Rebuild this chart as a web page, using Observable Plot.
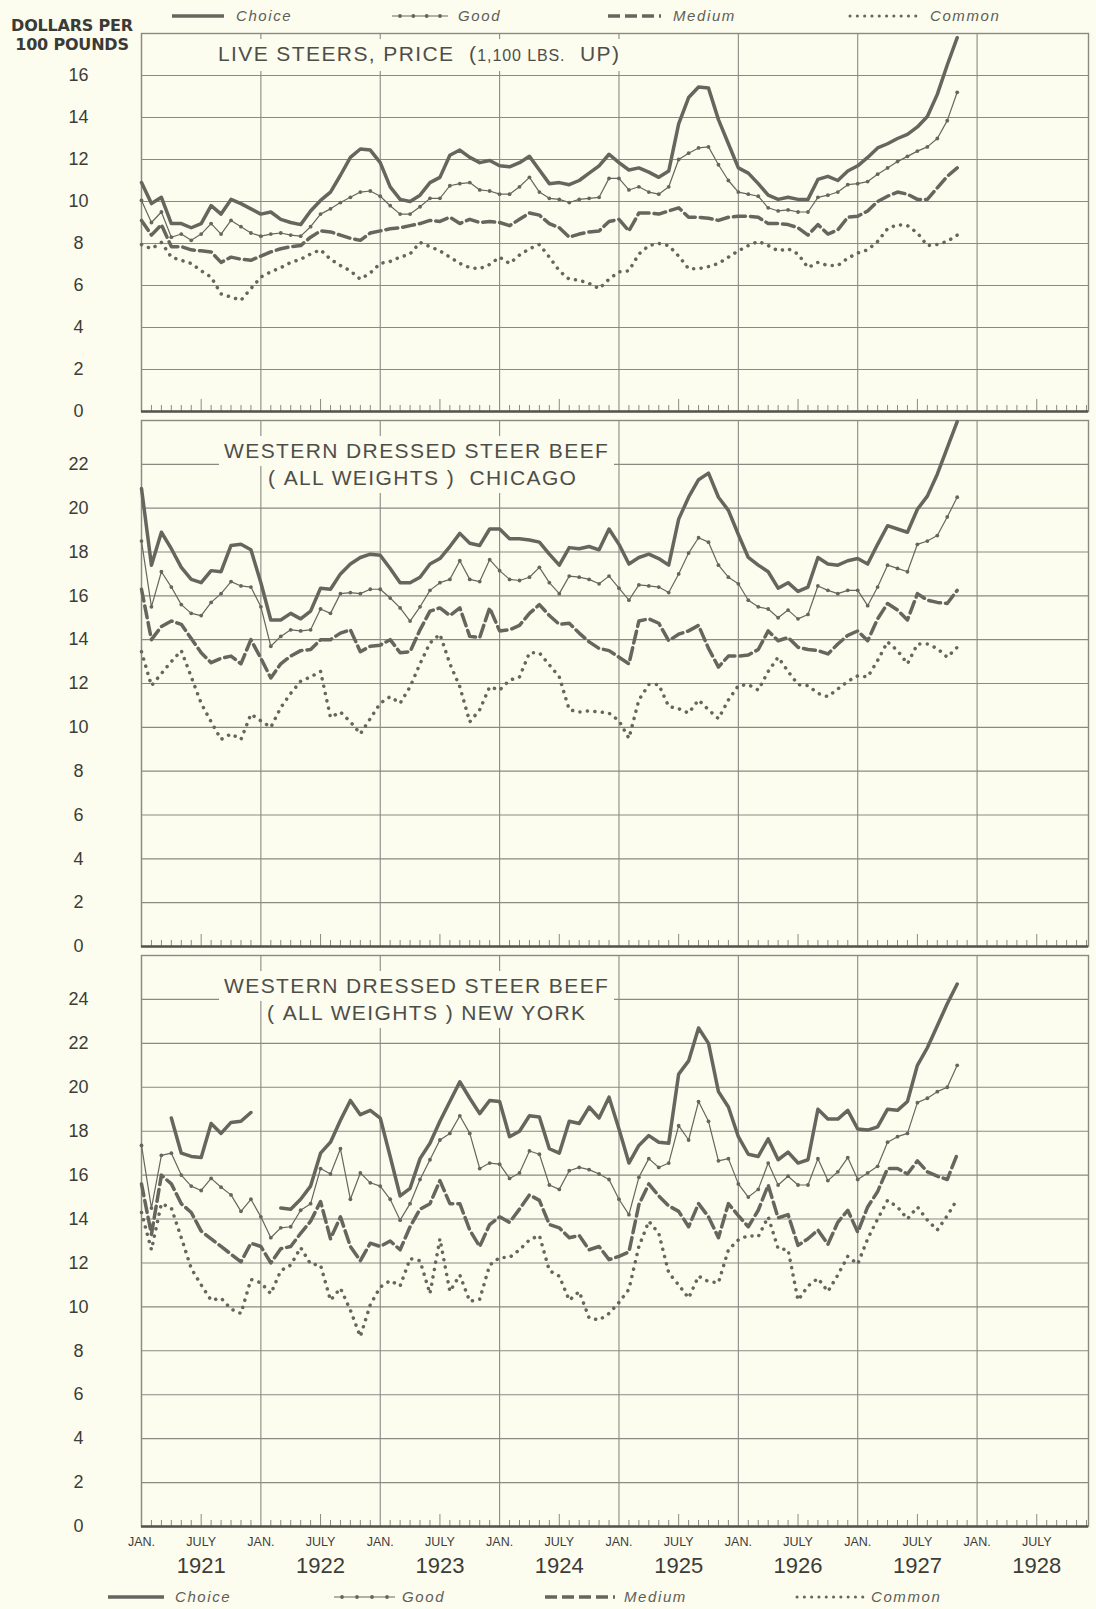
<!DOCTYPE html>
<html>
<head>
<meta charset="utf-8">
<script src="https://cdn.jsdelivr.net/npm/d3@7"></script>
<script src="https://cdn.jsdelivr.net/npm/@observablehq/plot@0.6"></script>
<style>
  html,body{margin:0;padding:0;background:#fcfcef;}
  #page{position:relative;width:1096px;height:1609px;overflow:hidden;background:#fcfcef;font-family:"Liberation Sans",Arial,sans-serif;color:#4b4b46;}
  .ttl{position:absolute;background:#fcfcef;white-space:nowrap;font-size:21px;line-height:22px;letter-spacing:1.4px;color:#4e4e49;padding:4px 5px;}
  .ttl .sm{font-size:16px;letter-spacing:0.9px;}
  .unit{position:absolute;left:0;width:144px;text-align:center;font-family:"DejaVu Sans",sans-serif;font-weight:bold;font-size:16px;line-height:19px;color:#3a3a36;white-space:nowrap;letter-spacing:-0.2px;}
  [aria-label="ytick"] text{letter-spacing:1.5px}
  [aria-label="mon"] text{letter-spacing:1.6px;font-weight:bold}
  [aria-label="yr"] text{letter-spacing:0.5px}
</style>
</head>
<body>
<div id="page"></div>
<script>
// ---------------- DATA (monthly, Jan 1921 = month 0 ... Nov 1927 = month 82) ----------------
const months = d3.range(83);

// Live steers, price (1,100 lbs. up)
const liveChoice = [
  10.9, 9.9, 10.2, 8.95, 8.95, 8.75, 8.95, 9.8, 9.4, 10.1, 9.9, 9.65,
  9.4, 9.5, 9.15, 9.0, 8.9, 9.55, 10.05, 10.45, 11.25, 12.1, 12.5, 12.45,
  11.85, 10.7, 10.1, 10.0, 10.3, 10.9, 11.15, 12.2, 12.45, 12.1, 11.85, 11.95,
  11.7, 11.65, 11.85, 12.15, 11.5, 10.85, 10.9, 10.8, 11.0, 11.35, 11.7, 12.25,
  11.85, 11.5, 11.6, 11.4, 11.15, 11.45, 13.7, 14.95, 15.45, 15.4, 13.9, 12.75,
  11.6, 11.35, 10.85, 10.3, 10.1, 10.2, 10.1, 10.1, 11.05, 11.2, 11.0, 11.45,
  11.7, 12.1, 12.55, 12.75, 13.0, 13.2, 13.55, 14.05, 15.1, 16.5, 17.8];
const liveGood = [
  10.05, 9.0, 9.5, 8.3, 8.45, 8.15, 8.45, 8.95, 8.45, 9.1, 8.8, 8.5,
  8.35, 8.45, 8.5, 8.4, 8.35, 8.8, 9.4, 9.65, 9.95, 10.2, 10.45, 10.5,
  10.25, 9.8, 9.4, 9.4, 9.75, 10.15, 10.15, 10.75, 10.85, 10.9, 10.55, 10.5,
  10.35, 10.35, 10.7, 11.15, 10.45, 10.15, 10.1, 9.95, 10.1, 10.15, 10.2, 11.1,
  11.1, 10.55, 10.7, 10.45, 10.35, 10.7, 12.0, 12.3, 12.55, 12.6, 11.75, 11.0,
  10.45, 10.35, 10.25, 9.7, 9.55, 9.6, 9.5, 9.5, 10.2, 10.3, 10.45, 10.8,
  10.85, 10.95, 11.3, 11.6, 11.9, 12.15, 12.4, 12.6, 13.0, 13.85, 15.2];
const liveMedium = [
  9.1, 8.4, 8.9, 7.85, 7.85, 7.7, 7.65, 7.6, 7.1, 7.35, 7.25, 7.2,
  7.4, 7.6, 7.75, 7.85, 7.9, 8.3, 8.6, 8.55, 8.4, 8.25, 8.15, 8.5,
  8.6, 8.7, 8.75, 8.85, 8.95, 9.1, 9.05, 9.25, 8.95, 9.15, 9.0, 9.05,
  9.0, 8.85, 9.15, 9.45, 9.35, 8.95, 8.75, 8.3, 8.45, 8.55, 8.6, 9.05,
  9.15, 8.6, 9.45, 9.45, 9.4, 9.55, 9.7, 9.25, 9.25, 9.2, 9.1, 9.25,
  9.3, 9.3, 9.25, 8.95, 8.95, 8.9, 8.75, 8.4, 8.9, 8.45, 8.65, 9.25,
  9.3, 9.55, 10.0, 10.25, 10.45, 10.35, 10.1, 10.1, 10.65, 11.2, 11.6];
const liveCommon = [
  7.95, 7.75, 8.05, 7.35, 7.2, 7.05, 6.7, 6.4, 5.6, 5.45, 5.3, 5.85,
  6.4, 6.65, 6.85, 7.1, 7.25, 7.5, 7.7, 7.25, 6.95, 6.7, 6.3, 6.6,
  7.05, 7.15, 7.35, 7.5, 8.05, 7.85, 7.65, 7.35, 7.05, 6.85, 6.8, 7.0,
  7.35, 7.05, 7.45, 7.75, 7.95, 7.35, 6.7, 6.3, 6.25, 6.1, 5.85, 6.3,
  6.65, 6.7, 7.5, 7.9, 8.0, 7.9, 7.4, 6.8, 6.8, 6.9, 7.05, 7.35,
  7.65, 7.9, 8.1, 7.9, 7.65, 7.75, 7.5, 6.85, 7.1, 6.95, 6.95, 7.3,
  7.55, 7.7, 8.1, 8.7, 8.9, 8.85, 8.5, 7.9, 7.95, 8.1, 8.4];

// Western dressed steer beef (all weights) Chicago
const chiChoice = [
  20.9, 17.4, 18.9, 18.15, 17.3, 16.75, 16.6, 17.15, 17.1, 18.3, 18.35, 18.1,
  16.6, 14.9, 14.9, 15.2, 14.95, 15.3, 16.35, 16.3, 17.0, 17.45, 17.75, 17.9,
  17.85, 17.25, 16.6, 16.6, 16.85, 17.45, 17.7, 18.25, 18.85, 18.4, 18.3, 19.05,
  19.05, 18.6, 18.6, 18.55, 18.45, 17.9, 17.4, 18.2, 18.15, 18.25, 18.1, 19.05,
  18.35, 17.45, 17.75, 17.9, 17.7, 17.4, 19.5, 20.5, 21.3, 21.6, 20.5, 19.9,
  18.8, 17.75, 17.4, 17.1, 16.35, 16.6, 16.2, 16.4, 17.75, 17.45, 17.4, 17.6,
  17.7, 17.45, 18.35, 19.2, 19.05, 18.9, 19.95, 20.55, 21.55, 22.75, 23.95];
const chiGood = [
  18.5, 15.5, 17.1, 16.4, 15.6, 15.2, 15.1, 15.7, 16.1, 16.65, 16.45, 16.4,
  15.5, 13.7, 14.15, 14.45, 14.4, 14.45, 15.4, 15.2, 16.1, 16.15, 16.1, 16.3,
  16.3, 15.9, 15.45, 14.85, 15.5, 16.25, 16.6, 16.75, 17.6, 16.75, 16.65, 17.65,
  17.15, 16.75, 16.7, 16.85, 17.3, 16.6, 16.1, 16.9, 16.85, 16.75, 16.55, 16.9,
  16.35, 15.8, 16.5, 16.45, 16.4, 16.15, 17.0, 17.95, 18.65, 18.45, 17.4, 16.85,
  16.55, 15.8, 15.5, 15.4, 15.0, 15.35, 14.95, 15.15, 16.45, 16.25, 16.1, 16.25,
  16.25, 15.55, 16.4, 17.4, 17.25, 17.1, 18.35, 18.5, 18.75, 19.6, 20.5];
const chiMedium = [
  16.3, 14.0, 14.6, 14.85, 14.7, 14.05, 13.4, 12.95, 13.15, 13.25, 12.9, 14.0,
  13.15, 12.25, 12.9, 13.25, 13.5, 13.55, 14.0, 14.0, 14.3, 14.45, 13.45, 13.7,
  13.75, 14.0, 13.4, 13.45, 14.45, 15.3, 15.45, 15.1, 15.45, 14.15, 14.1, 15.45,
  14.4, 14.45, 14.65, 15.2, 15.6, 15.1, 14.7, 14.75, 14.3, 13.9, 13.6, 13.5,
  13.2, 12.9, 14.85, 14.95, 14.75, 13.95, 14.25, 14.4, 14.65, 13.6, 12.75, 13.25,
  13.25, 13.3, 13.55, 14.4, 13.95, 14.1, 13.65, 13.55, 13.5, 13.35, 13.8, 14.2,
  14.4, 13.95, 14.95, 15.65, 15.35, 14.9, 16.1, 15.8, 15.7, 15.65, 16.25];
const chiCommon = [
  13.45, 11.9, 12.45, 13.0, 13.5, 12.3, 11.1, 10.25, 9.45, 9.7, 9.45, 10.6,
  10.3, 10.0, 10.9, 11.55, 12.1, 12.3, 12.55, 10.45, 10.7, 10.25, 9.7, 10.4,
  11.1, 11.4, 11.1, 11.85, 12.9, 13.85, 14.25, 12.9, 11.85, 10.25, 10.8, 11.85,
  11.7, 12.15, 12.3, 13.4, 13.4, 12.85, 12.3, 10.8, 10.7, 10.75, 10.7, 10.65,
  10.3, 9.5, 11.25, 11.95, 11.95, 10.95, 10.85, 10.65, 11.25, 10.8, 10.4, 11.25,
  11.9, 11.95, 11.7, 12.55, 13.2, 12.55, 11.95, 11.9, 11.55, 11.4, 11.75, 12.1,
  12.35, 12.3, 13.05, 13.9, 13.5, 12.9, 13.8, 13.8, 13.6, 13.2, 13.65];

// Western dressed steer beef (all weights) New York
const nyChoice = [
  null, null, null, 18.6, 17.0, 16.85, 16.8, 18.35, 17.9, 18.4, 18.45, 18.85,
  null, null, 14.5, 14.45, 14.9, 15.5, 17.0, 17.5, 18.5, 19.4, 18.75, 18.95,
  18.6, 16.85, 15.05, 15.4, 16.75, 17.45, 18.45, 19.35, 20.25, 19.5, 18.8, 19.4,
  19.35, 17.75, 18.0, 18.7, 18.65, 17.2, 17.0, 18.45, 18.35, 19.1, 18.6, 19.55,
  18.1, 16.55, 17.35, 17.8, 17.5, 17.45, 20.6, 21.2, 22.7, 22.0, 19.8, 19.1,
  17.75, 16.95, 16.85, 17.65, 16.7, 17.05, 16.55, 16.7, 19.0, 18.55, 18.55, 18.95,
  18.1, 18.05, 18.2, 19.0, 18.95, 19.35, 21.0, 21.8, 22.8, 23.8, 24.7];
const nyGood = [
  17.35, 14.5, 16.9, 17.0, 16.0, 15.5, 15.3, 15.85, 15.45, 15.1, 14.35, 14.9,
  14.1, 13.15, 13.6, 13.65, 14.4, 14.7, 16.3, 16.05, 17.2, 14.9, 16.1, 15.65,
  15.5, 14.9, 13.95, 14.7, 15.8, 16.7, 17.6, 17.9, 18.7, 17.9, 16.3, 16.55,
  16.5, 15.85, 16.1, 17.1, 16.95, 15.55, 15.35, 16.2, 16.35, 16.25, 16.05, 15.8,
  14.9, 14.2, 15.9, 16.75, 16.35, 16.55, 18.25, 17.6, 19.35, 18.45, 16.65, 16.75,
  15.6, 15.0, 15.35, 16.55, 15.55, 15.95, 15.55, 15.55, 16.75, 15.75, 16.15, 16.8,
  15.8, 16.1, 16.4, 17.5, 17.75, 17.9, 19.3, 19.5, 19.8, 20.0, 21.0];
const nyMedium = [
  15.6, 13.3, 16.0, 15.6, 14.7, 14.3, 13.45, 13.1, 12.75, 12.4, 12.05, 12.9,
  12.75, 12.0, 12.65, 12.75, 13.35, 13.9, 14.8, 13.1, 14.1, 12.75, 12.1, 12.9,
  12.75, 13.0, 12.6, 13.65, 14.45, 14.7, 15.75, 14.7, 14.7, 13.5, 12.75, 13.75,
  14.1, 13.85, 14.45, 15.1, 14.85, 13.75, 13.6, 13.15, 13.25, 12.6, 12.75, 12.15,
  12.3, 12.5, 14.65, 15.6, 15.05, 14.6, 14.35, 13.65, 14.7, 14.1, 13.15, 14.7,
  14.15, 13.65, 14.4, 15.55, 14.05, 14.2, 12.8, 13.1, 13.5, 12.85, 13.85, 14.4,
  13.4, 14.55, 15.25, 16.3, 16.3, 16.05, 16.65, 16.15, 15.95, 15.8, 16.95];
const nyCommon = [
  14.3, 12.6, 14.7, 14.5, 13.15, 11.75, 11.0, 10.3, 10.4, 9.9, 9.7, 11.25,
  11.1, 10.6, 11.65, 11.9, 12.7, 11.95, 11.9, 10.3, 10.85, 9.85, 8.65, 10.1,
  10.9, 11.2, 10.95, 12.2, 12.1, 10.6, 13.1, 10.7, 11.45, 10.25, 10.35, 11.9,
  12.25, 12.25, 12.6, 13.05, 13.25, 11.65, 11.4, 10.3, 10.7, 9.5, 9.4, 9.7,
  10.2, 10.8, 12.75, 13.9, 13.35, 11.55, 11.0, 10.4, 11.4, 11.15, 11.1, 12.6,
  13.05, 13.25, 13.2, 14.1, 12.65, 12.6, 10.3, 10.95, 11.3, 10.7, 11.45, 12.3,
  11.95, 13.1, 14.0, 14.85, 14.55, 14.0, 14.55, 13.95, 13.5, 14.15, 14.9];

// Tick values / labels
const yGrid1 = [0, 2, 4, 6, 8, 10, 12, 14, 16, 18];
const yLabels1 = [0, 2, 4, 6, 8, 10, 12, 14, 16];
const yGrid2 = [0, 2, 4, 6, 8, 10, 12, 14, 16, 18, 20, 22, 24];
const yLabels2 = [0, 2, 4, 6, 8, 10, 12, 14, 16, 18, 20, 22];
const yGrid3 = [0, 2, 4, 6, 8, 10, 12, 14, 16, 18, 20, 22, 24, 26];
const yLabels3 = [0, 2, 4, 6, 8, 10, 12, 14, 16, 18, 20, 22, 24];
const janMonths = [0, 12, 24, 36, 48, 60, 72, 84];
const julyMonths = [6, 18, 30, 42, 54, 66, 78, 90];
const minorMonths = d3.range(1, 96).filter(m => m % 6 !== 0);
const xTickMonths = [0, 6, 12, 18, 24, 30, 36, 42, 48, 54, 60, 66, 72, 78, 84, 90];
const xTickNames = ["JAN.", "JULY", "JAN.", "JULY", "JAN.", "JULY", "JAN.", "JULY",
                    "JAN.", "JULY", "JAN.", "JULY", "JAN.", "JULY", "JAN.", "JULY"];
const yearMonths = [6, 18, 30, 42, 54, 66, 78, 90];
const yearNames = ["1921", "1922", "1923", "1924", "1925", "1926", "1927", "1928"];
const legendNames = ["Choice", "Good", "Medium", "Common"];

// ---------------- DRAWING ----------------
const page = document.getElementById("page");
const LINE = "#66665f", GRID = "#8a8a83", TEXT = "#3c3c38";

function makePanel(p) {
  const rows = months.map((m, i) => ({m, choice: p.choice[i], good: p.good[i], medium: p.medium[i], common: p.common[i]}));
  const inner = p.height - p.mt - p.mb;
  const marks = [
    Plot.ruleY(p.grid, {stroke: GRID, strokeWidth: 1.1}),
    Plot.ruleX(janMonths, {stroke: GRID, strokeWidth: 1.1}),
    Plot.frame({stroke: GRID, strokeWidth: 1.4}),
    Plot.ruleX(minorMonths, {stroke: GRID, strokeWidth: 1, insetTop: inner - 6}),
    Plot.ruleX(julyMonths, {stroke: GRID, strokeWidth: 1, insetTop: inner - 12}),
    Plot.ruleY([0], {stroke: "#55554f", strokeWidth: 2.6}),
    Plot.line(rows, {x: "m", y: "common", stroke: LINE, strokeWidth: 3.5, strokeDasharray: "0.1 7.4", strokeLinecap: "round"}),
    Plot.line(rows, {x: "m", y: "medium", stroke: LINE, strokeWidth: 3.5, strokeDasharray: "12 5"}),
    Plot.line(rows, {x: "m", y: "good", stroke: LINE, strokeWidth: 1.2}),
    Plot.dot(rows, {x: "m", y: "good", r: 1.9, fill: LINE}),
    Plot.line(rows, {x: "m", y: "choice", stroke: LINE, strokeWidth: 3.5, strokeLinejoin: "round"}),
    Plot.axisY({ticks: p.labels, tickSize: 0, tickPadding: 63, textAnchor: "middle", fontSize: 18, fill: TEXT, ariaLabel: "ytick"})
  ];
  if (p.xaxis) {
    marks.push(
      Plot.axisX({ticks: xTickMonths, tickFormat: d => xTickNames[xTickMonths.indexOf(d)], tickSize: 0, tickPadding: 11, fontSize: 12.5, fill: TEXT, ariaLabel: "mon"}),
      Plot.axisX({ticks: yearMonths, tickFormat: d => yearNames[yearMonths.indexOf(d)], tickSize: 0, tickPadding: 31, fontSize: 22, fill: TEXT, ariaLabel: "yr"})
    );
  }
  const svg = Plot.plot({
    width: 1096, height: p.height,
    marginLeft: 141, marginRight: 8, marginTop: p.mt, marginBottom: p.mb,
    x: {domain: [0, 95.2], axis: null, label: null},
    y: {domain: [0, p.ymax], axis: null, label: null},
    style: {background: "transparent", overflow: "visible", fontFamily: "'Liberation Sans', Arial, sans-serif", color: TEXT},
    marks
  });
  svg.style.position = "absolute";
  svg.style.left = "0px";
  svg.style.top = p.top + "px";
  page.appendChild(svg);
}

makePanel({top: 0, height: 416, mt: 33, mb: 5, ymax: 18, grid: yGrid1, labels: yLabels1,
  choice: liveChoice, good: liveGood, medium: liveMedium, common: liveCommon});
makePanel({top: 416, height: 534, mt: 4, mb: 4, ymax: 24, grid: yGrid2, labels: yLabels2,
  choice: chiChoice, good: chiGood, medium: chiMedium, common: chiCommon});
makePanel({top: 950, height: 626, mt: 5, mb: 50, ymax: 26, grid: yGrid3, labels: yLabels3, xaxis: true,
  choice: nyChoice, good: nyGood, medium: nyMedium, common: nyCommon});

// ---------------- TEXT OVERLAYS ----------------
function addDiv(cls, left, top, html) {
  const d = document.createElement("div");
  d.className = cls;
  if (left !== null) d.style.left = left + "px";
  d.style.top = top + "px";
  d.innerHTML = html;
  page.appendChild(d);
  return d;
}
addDiv("unit", null, 16, "DOLLARS PER");
addDiv("unit", null, 35, "100 POUNDS");

addDiv("ttl", 213, 39, 'LIVE STEERS, PRICE &nbsp;(<span class="sm">1,100 LBS.</span>&nbsp; UP)');
addDiv("ttl", 219, 436, "WESTERN DRESSED STEER BEEF");
addDiv("ttl", 263, 463, "(&nbsp;ALL WEIGHTS&nbsp;)&nbsp; CHICAGO");
addDiv("ttl", 219, 971, "WESTERN DRESSED STEER BEEF");
addDiv("ttl", 262, 998, "(&nbsp;ALL WEIGHTS&nbsp;)&nbsp;NEW YORK");

// ---------------- LEGENDS ----------------
function addLegend(cy, pos) {
  const svg = d3.select(page).append("svg")
    .attr("width", 1096).attr("height", 30)
    .style("position", "absolute").style("left", "0px").style("top", (cy - 15) + "px");
  const y = 15;
  pos.forEach((p, k) => {
    const [x0, x1, tx] = p;
    if (k === 0) {
      svg.append("line").attr("x1", x0).attr("x2", x1).attr("y1", y).attr("y2", y)
        .attr("stroke", LINE).attr("stroke-width", 3.4);
    } else if (k === 1) {
      svg.append("line").attr("x1", x0).attr("x2", x1).attr("y1", y).attr("y2", y)
        .attr("stroke", LINE).attr("stroke-width", 1.2);
      for (let j = 0; j < 4; j++) {
        svg.append("circle").attr("cx", x0 + 8 + j * (x1 - x0 - 16) / 3).attr("cy", y).attr("r", 1.9).attr("fill", LINE);
      }
    } else if (k === 2) {
      svg.append("line").attr("x1", x0).attr("x2", x1).attr("y1", y).attr("y2", y)
        .attr("stroke", LINE).attr("stroke-width", 3.4).attr("stroke-dasharray", "12 5");
    } else {
      svg.append("line").attr("x1", x0).attr("x2", x1).attr("y1", y).attr("y2", y)
        .attr("stroke", LINE).attr("stroke-width", 3).attr("stroke-linecap", "round").attr("stroke-dasharray", "0.1 7.2");
    }
    svg.append("text").attr("x", tx).attr("y", y).attr("dy", "0.35em")
      .attr("font-family", "'Liberation Sans', Arial, sans-serif").attr("font-style", "italic")
      .attr("font-size", 15).attr("letter-spacing", "1.6px").attr("fill", "#5e5e58")
      .text(legendNames[k]);
  });
}
addLegend(16, [[172, 224, 236], [392, 448, 458], [608, 661, 673], [850, 920, 930]]);
addLegend(1597, [[108, 164, 175], [334, 395, 402], [545, 615, 624], [797, 864, 871]]);
</script>
</body>
</html>
